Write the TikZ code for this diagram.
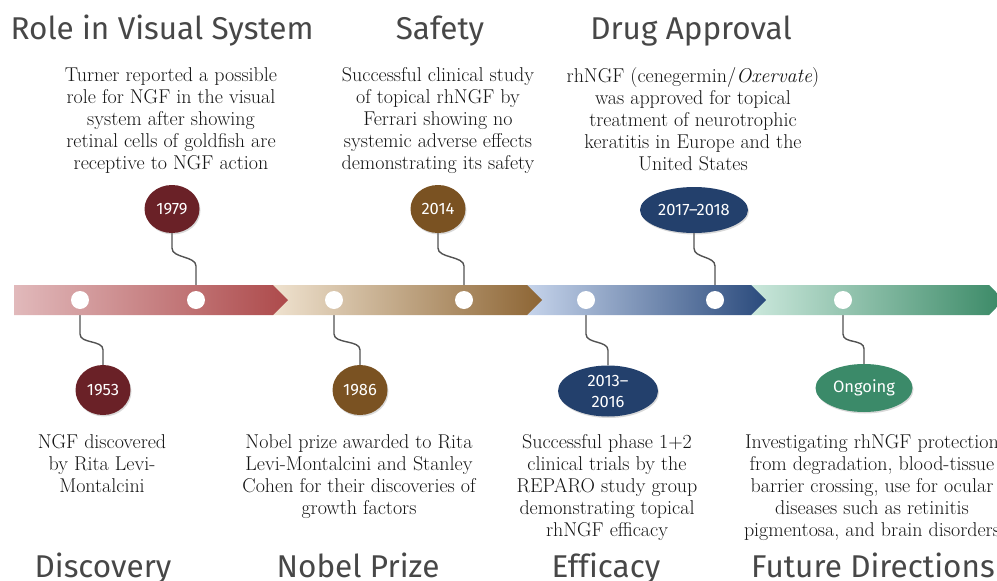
\documentclass[tikz,border=0pt]{standalone}
\usepackage{fontspec}
\newfontfamily\headfont[Ligatures={TeX,NoCommon}]{Fira Sans}
\usetikzlibrary{calc, shapes.geometric, shadows, backgrounds}

\definecolor{redlight}{HTML}{E1B9BB}
\definecolor{reddark}{HTML}{AD4A4B}
\definecolor{brownlight}{HTML}{EFE2CF}
\definecolor{browndark}{HTML}{8D6534}
\definecolor{bluelight}{HTML}{C6D4EB}
\definecolor{bluedark}{HTML}{2A4A7C}
\definecolor{greenlight}{HTML}{CBE8DC}
\definecolor{greendark}{HTML}{3A8966}
\definecolor{maroon}{HTML}{6A2127}
\definecolor{umber}{HTML}{7A5222}
\definecolor{navy}{HTML}{23406C}
\definecolor{jade}{HTML}{3B8A69}

\begin{document}
\begin{tikzpicture}[x=1pt, y=-1pt,
    heading/.style={anchor=base, inner sep=0pt, text=black!72,
        font=\headfont\fontsize{31.5}{34}\selectfont},
    note/.style={anchor=north, inner sep=0pt, align=center, text=black!92,
        font=\fontsize{20}{22}\selectfont},
    bubble/.style={ellipse, fill=#1, text=white, inner sep=0pt, align=center,
        font=\headfont\fontsize{16.5}{21}\selectfont,
        drop shadow={shadow xshift=1pt, shadow yshift=-1.5pt, opacity=0.3}},
    dot/.style={circle, fill=white, minimum size=18pt, inner sep=0pt},
    link/.style={draw=black!68, line width=1.4pt}]

    \useasboundingbox (0,0) rectangle (997,581);
    \clip (0,0) rectangle (997,581);

    % points on the time line
    \foreach \n/\x in {1/80, 2/196, 3/334, 4/464, 5/586, 6/715, 7/843}
        \coordinate (p\n) at (\x,300);

    % years
    \node[bubble=maroon, minimum width=55pt, minimum height=48pt] (y1979) at (172,209) {1979};
    \node[bubble=maroon, minimum width=55pt, minimum height=50pt] (y1953) at (103,390) {1953};
    \node[bubble=umber, minimum width=55pt, minimum height=50pt] (y1986) at (360,390) {1986};
    \node[bubble=umber, minimum width=55pt, minimum height=48pt] (y2014) at (438,209) {2014};
    \node[bubble=navy, minimum width=108pt, minimum height=46pt] (y2017) at (694,210) {2017--2018};
    \node[bubble=navy, minimum width=100pt, minimum height=51pt] (y2013) at (608,391) {2013--\\2016};
    \node[bubble=jade, minimum width=97pt, minimum height=48pt] (yon) at (864,388) {Ongoing};

    \begin{pgfonlayer}{background}
        \draw[link] (y1979.south) -- ++(0,15) .. controls +(0,10) and +(0,-10) .. ($(p2)+(0,-34)$) -- (p2);
        \draw[link] (y2014.south) -- ++(0,15) .. controls +(0,10) and +(0,-10) .. ($(p4)+(0,-34)$) -- (p4);
        \draw[link] (y2017.south) -- ++(0,15) .. controls +(0,10) and +(0,-10) .. ($(p6)+(0,-34)$) -- (p6);
        \draw[link] (p1) -- ++(0,34) .. controls +(0,10) and +(0,-10) .. ($(y1953.north)+(0,-15)$) -- (y1953.north);
        \draw[link] (p3) -- ++(0,34) .. controls +(0,10) and +(0,-10) .. ($(y1986.north)+(0,-15)$) -- (y1986.north);
        \draw[link] (p5) -- ++(0,34) .. controls +(0,10) and +(0,-10) .. ($(y2013.north)+(0,-15)$) -- (y2013.north);
        \draw[link] (p7) -- ++(0,34) .. controls +(0,10) and +(0,-10) .. ($(yon.north)+(0,-15)$) -- (yon.north);
    \end{pgfonlayer}

    % time line
    \foreach \xa/\xb/\cl/\cd in {751/989/greenlight/greendark, 527/751/bluelight/bluedark,
            273/527/brownlight/browndark, 14/273/redlight/reddark}
        \shade[left color=\cl, right color=\cd]
            (\xa,285) -- (\xb,285) -- (\xb+15,300) -- (\xb,315) -- (\xa,315) -- cycle;
    \foreach \n in {1,...,7}
        \node[dot] (d\n) at (p\n) {};

    % headings
    \node[heading] (h1) at (162,39) {Role in Visual System};
    \node[heading] (h2) at (440,39) {Safety};
    \node[heading] (h3) at (691,39) {Drug Approval};
    \node[heading] (h4) at (103,577) {Discovery};
    \node[heading] (h5) at (358,577) {Nobel Prize};
    \node[heading] (h6) at (606,577) {Efficacy};
    \node[heading, anchor=base west] (h7) at (751,577) {Future Directions};

    % notes
    \node[note] (n1) at (171,67) {Turner reported a possible\\role for NGF in the visual\\system after showing\\retinal cells of goldfish are\\receptive to NGF action};
    \node[note] (n2) at (438,67) {Successful clinical study\\of topical rhNGF by\\Ferrari showing no\\systemic adverse effects\\demonstrating its safety};
    \node[note] (n3) at (693,67) {rhNGF (cenegermin/\textit{Oxervate})\\was approved for topical\\treatment of neurotrophic\\keratitis in Europe and the\\United States};
    \node[note] (n4) at (102,434) {NGF discovered\\by Rita Levi-\\Montalcini};
    \node[note] (n5) at (359,434) {Nobel prize awarded to Rita\\Levi-Montalcini and Stanley\\Cohen for their discoveries of\\growth factors};
    \node[note] (n6) at (607,434) {Successful phase 1+2\\clinical trials by the\\REPARO study group\\demonstrating topical\\rhNGF efficacy};
    \node[note] (n7) at (872,434) {Investigating rhNGF protection\\from degradation, blood-tissue\\barrier crossing, use for ocular\\diseases such as retinitis\\pigmentosa, and brain disorders};
\end{tikzpicture}
\end{document}
